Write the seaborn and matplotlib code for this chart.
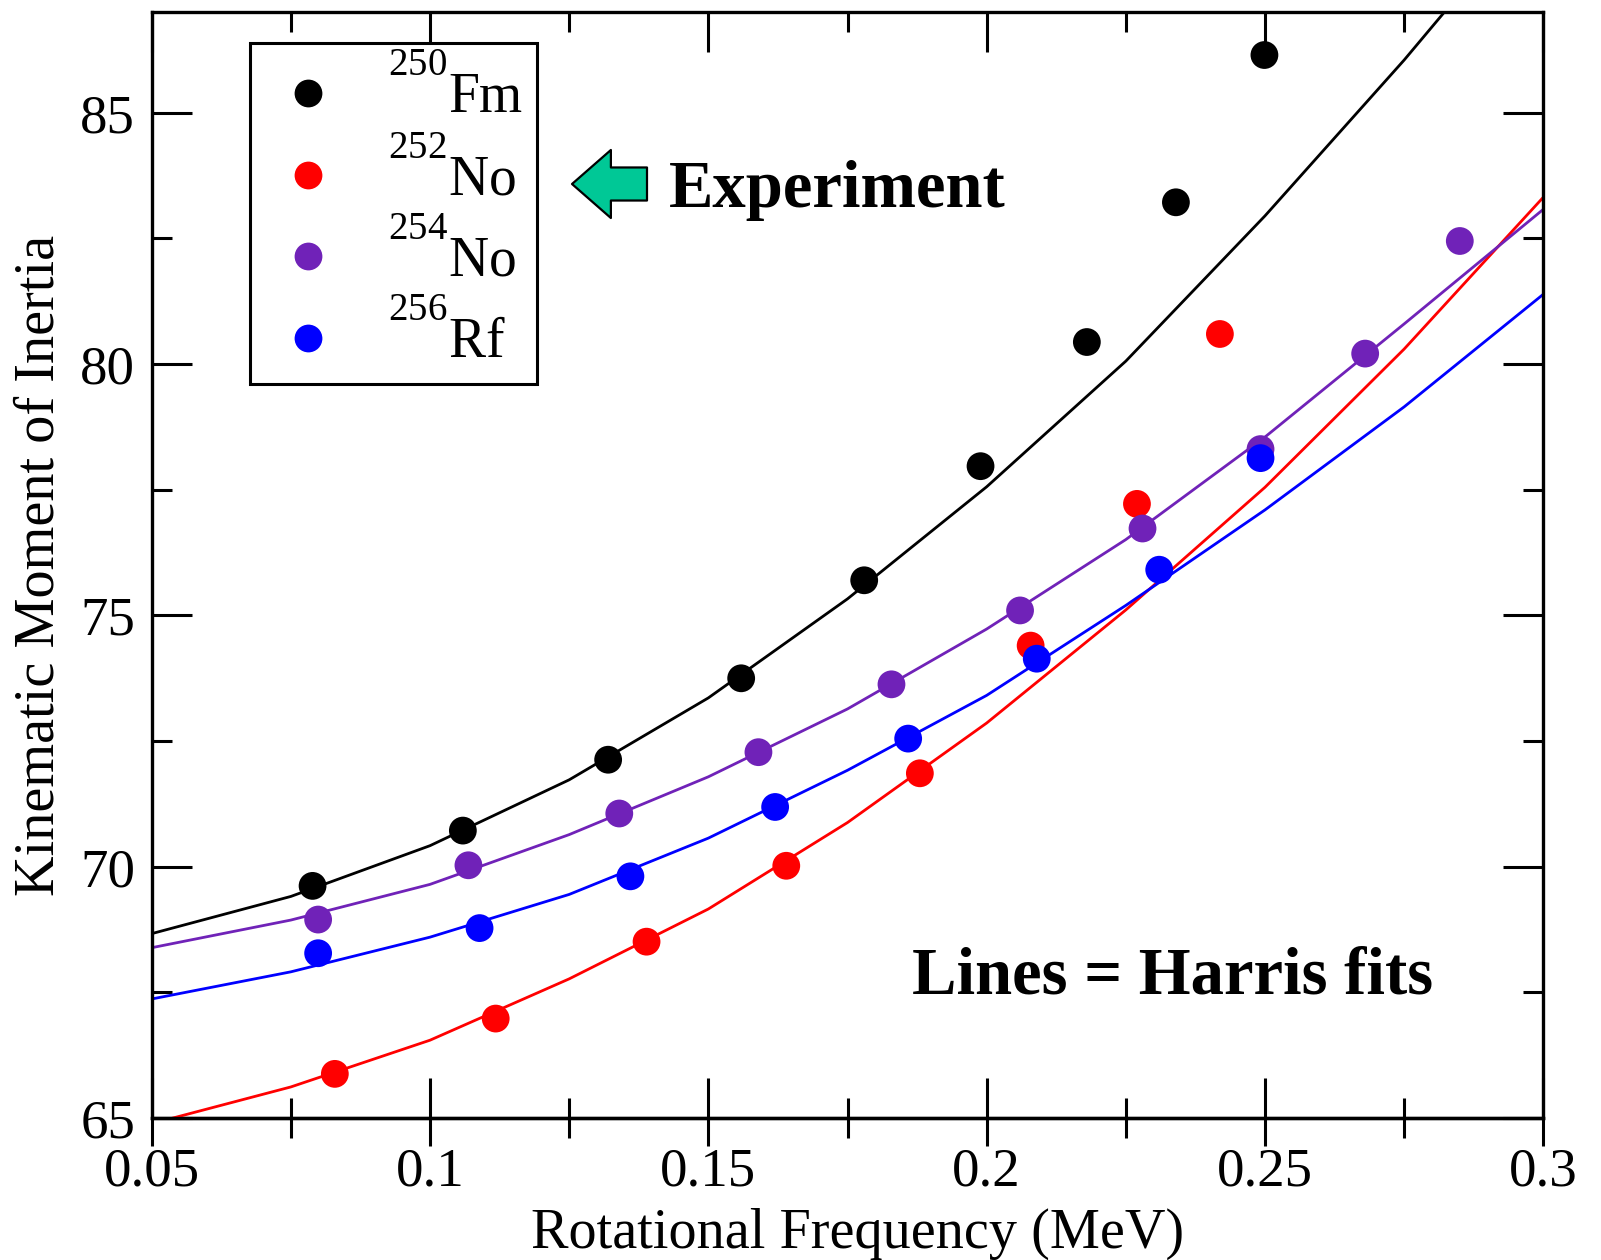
import numpy as np
import pandas as pd
import matplotlib
matplotlib.use("Agg")
import matplotlib.pyplot as plt
import matplotlib._mathtext as _mt
from matplotlib.lines import Line2D
import seaborn as sns

# ---------------- data ----------------
fm250_w = [0.0789, 0.1059, 0.1320, 0.1559, 0.1780, 0.1989, 0.2180, 0.2340, 0.2499]
fm250_j = [69.62, 70.72, 72.13, 73.75, 75.70, 77.97, 80.44, 83.22, 86.15]

no252_w = [0.0829, 0.1118, 0.1389, 0.1640, 0.1880, 0.2079, 0.2270, 0.2419]
no252_j = [65.88, 66.98, 68.51, 70.02, 71.86, 74.40, 77.22, 80.60]

no254_w = [0.0799, 0.1069, 0.1340, 0.1590, 0.1829, 0.2060, 0.2280, 0.2492, 0.2680, 0.2850]
no254_j = [68.95, 70.03, 71.06, 72.28, 73.63, 75.10, 76.73, 78.31, 80.21, 82.45]

rf256_w = [0.0799, 0.1089, 0.1360, 0.1620, 0.1859, 0.2090, 0.2310, 0.2492]
rf256_j = [68.28, 68.78, 69.81, 71.19, 72.55, 74.14, 75.91, 78.13]

# Harris-fit curves
fit_w = [0.05, 0.075, 0.10, 0.125, 0.15, 0.175, 0.20, 0.225, 0.25, 0.275, 0.30]
fm250_fit_w = [0.05, 0.075, 0.10, 0.125, 0.15, 0.175, 0.20, 0.225, 0.25, 0.275, 0.2822]
fm250_fit = [68.67, 69.41, 70.42, 71.73, 73.36, 75.33, 77.56, 80.06, 82.95, 86.05, 87.0]
no252_fit = [64.89, 65.62, 66.55, 67.77, 69.16, 70.88, 72.86, 75.11, 77.55, 80.30, 83.32]
no254_fit = [68.39, 68.94, 69.65, 70.64, 71.79, 73.14, 74.73, 76.51, 78.55, 80.80, 83.08]
rf256_fit = [67.37, 67.91, 68.60, 69.45, 70.57, 71.92, 73.41, 75.20, 77.10, 79.15, 81.39]

series = ["250Fm", "252No", "254No", "256Rf"]
labels = [r"$^{250}$Fm", r"$^{252}$No", r"$^{254}$No", r"$^{256}$Rf"]
colors = ["#000000", "#FF0000", "#7022B8", "#0000FF"]

x_ticks = [0.05, 0.1, 0.15, 0.2, 0.25, 0.3]
x_ticklabels = ["0.05", "0.1", "0.15", "0.2", "0.25", "0.3"]
y_ticks = [65, 70, 75, 80, 85]

# ---------------- tables ----------------
pts = pd.concat([
    pd.DataFrame({"w": fm250_w, "J": fm250_j, "nucleus": "250Fm"}),
    pd.DataFrame({"w": no252_w, "J": no252_j, "nucleus": "252No"}),
    pd.DataFrame({"w": no254_w, "J": no254_j, "nucleus": "254No"}),
    pd.DataFrame({"w": rf256_w, "J": rf256_j, "nucleus": "256Rf"}),
], ignore_index=True)

fits = pd.concat([
    pd.DataFrame({"w": fm250_fit_w, "J": fm250_fit, "nucleus": "250Fm"}),
    pd.DataFrame({"w": fit_w, "J": no252_fit, "nucleus": "252No"}),
    pd.DataFrame({"w": fit_w, "J": no254_fit, "nucleus": "254No"}),
    pd.DataFrame({"w": fit_w, "J": rf256_fit, "nucleus": "256Rf"}),
], ignore_index=True)

# ---------------- style ----------------
sns.set_theme(style="white")
plt.rcParams["font.family"] = ["Liberation Serif", "DejaVu Serif"]
plt.rcParams["mathtext.fontset"] = "custom"
plt.rcParams["mathtext.rm"] = "Liberation Serif"
plt.rcParams["mathtext.it"] = "Liberation Serif:italic"
plt.rcParams["mathtext.bf"] = "Liberation Serif:bold"
for k in ["text.color", "axes.labelcolor", "xtick.color", "ytick.color", "axes.edgecolor"]:
    plt.rcParams[k] = "black"
# raise superscripts higher (mass numbers sit above the element symbol)
_mt.FontConstantsBase.sup1 = 1.4

W, H = 1601, 1260
fig = plt.figure(figsize=(W / 100, H / 100), dpi=100)
ax_l, ax_r, ax_t, ax_b = 151.7, 1543.3, 12.3, 1118.1
ax = fig.add_axes([ax_l / W, 1 - ax_b / H, (ax_r - ax_l) / W, (ax_b - ax_t) / H])

palette = dict(zip(series, colors))
sns.lineplot(data=fits, x="w", y="J", hue="nucleus", palette=palette,
             estimator=None, sort=False, lw=2.0, legend=False, ax=ax, zorder=2)
sns.scatterplot(data=pts, x="w", y="J", hue="nucleus", palette=palette,
                s=400, edgecolor="none", linewidth=0, legend=False, ax=ax, zorder=3)

ax.set_xlim(0.05, 0.3)
ax.set_ylim(65, 87)
ax.set_xticks(x_ticks)
ax.set_xticklabels(x_ticklabels)
ax.set_xticks(np.arange(0.075, 0.3, 0.05), minor=True)
ax.set_yticks(y_ticks)
ax.set_yticks([67.5, 72.5, 77.5, 82.5], minor=True)

for s in ax.spines.values():
    s.set_linewidth(2.4)
    s.set_color("black")
    s.set_visible(True)

tick_fs = 39.5
ax.tick_params(axis="both", which="both", direction="in", color="black",
               width=2.2, top=True, right=True, bottom=True, left=True)
ax.tick_params(axis="both", which="major", length=28.8)
ax.tick_params(axis="both", which="minor", length=14.4)
ax.tick_params(axis="x", which="major", labelsize=tick_fs, pad=21)
ax.tick_params(axis="y", which="major", labelsize=tick_fs, pad=12)

# outward part of the bottom ticks
sec = ax.secondary_xaxis("bottom")
sec.set_xticks(x_ticks)
sec.set_xticks(np.arange(0.075, 0.3, 0.05), minor=True)
sec.tick_params(axis="x", which="both", direction="out", width=2.2,
                labelbottom=False, color="black")
sec.tick_params(axis="x", which="major", length=20)
sec.tick_params(axis="x", which="minor", length=14.4)
sec.spines["bottom"].set_linewidth(2.4)

ax.set_xlabel("Rotational Frequency (MeV)", fontsize=40.5)
ax.set_ylabel("Kinematic Moment of Inertia", fontsize=40.5)
ax.xaxis.set_label_coords(0.5073, -0.0815)
ax.yaxis.set_label_coords(-0.062, 0.5)

# legend
handles = [Line2D([], [], marker="o", ls="", color=c, markersize=20,
                  markeredgewidth=0) for c in colors]
leg = ax.legend(handles, labels, loc="upper left",
                bbox_to_anchor=((250 - ax_l) / (ax_r - ax_l), (ax_b - 43) / (ax_b - ax_t)),
                borderaxespad=0, fontsize=40, frameon=True, fancybox=False,
                borderpad=0.26, handlelength=1.58, handletextpad=0.635,
                labelspacing=0.264, edgecolor="black", framealpha=1)
leg.get_frame().set_linewidth(2.2)

# annotations
ax.annotate("", xy=(572, H - 184), xycoords="figure pixels",
            xytext=(647, H - 184), textcoords="figure pixels",
            arrowprops=dict(arrowstyle="simple,head_length=1.4,head_width=2.45,tail_width=1.19",
                            mutation_scale=20, fc="#00C896", ec="black", lw=1.6,
                            shrinkA=0, shrinkB=0))
fig.text(669 / W, 1 - 207 / H, "Experiment", fontsize=48, fontweight="bold",
         ha="left", va="baseline")
fig.text(912 / W, 1 - 993 / H, "Lines = Harris fits", fontsize=48, fontweight="bold",
         ha="left", va="baseline")

fig.savefig("out.png", dpi=100)
